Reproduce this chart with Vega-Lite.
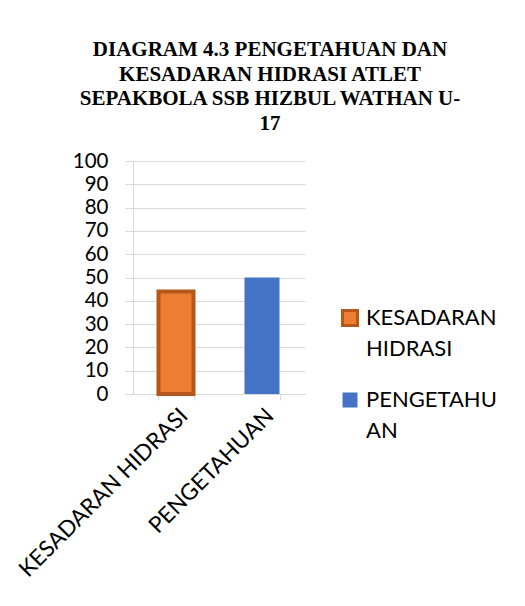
{
  "$schema": "https://vega.github.io/schema/vega-lite/v6.json",
  "width": 172,
  "height": 233,
  "autosize": {"type": "none"},
  "padding": {"left": 133, "top": 161, "right": 220, "bottom": 212},
  "background": "white",
  "title": {
    "text": ["DIAGRAM 4.3 PENGETAHUAN DAN", "KESADARAN HIDRASI ATLET", "SEPAKBOLA SSB HIZBUL WATHAN U-", "17"],
    "font": "Liberation Serif",
    "fontSize": 21,
    "fontWeight": "bold",
    "color": "#000000",
    "anchor": "middle",
    "frame": "group",
    "dx": 51,
    "offset": 17,
    "lineHeight": 24.7
  },
  "data": {
    "values": [
      {"kategori": "KESADARAN HIDRASI", "nilai": 44},
      {"kategori": "PENGETAHUAN", "nilai": 50}
    ]
  },
  "config": {
    "view": {"stroke": null}
  },
  "mark": {"type": "bar", "strokeWidth": 4},
  "encoding": {
    "x": {
      "field": "kategori",
      "type": "nominal",
      "sort": null,
      "scale": {"paddingInner": 0.593, "paddingOuter": 0.2965},
      "axis": {
        "title": null,
        "labelAngle": -45,
        "labelAlign": "right",
        "labelBaseline": "top",
        "labelFont": "Lato",
        "labelFontSize": 22.5,
        "labelColor": "#000000",
        "labelPadding": 4,
        "labelLimit": 400,
        "tickBand": "extent",
        "tickSize": 6,
        "tickColor": "#d9d9d9",
        "domainColor": "#d9d9d9",
        "grid": false
      }
    },
    "y": {
      "field": "nilai",
      "type": "quantitative",
      "scale": {"domain": [0, 100]},
      "axis": {
        "title": null,
        "values": [0, 10, 20, 30, 40, 50, 60, 70, 80, 90, 100],
        "labelFont": "Lato",
        "labelFontSize": 20.5,
        "labelColor": "#000000",
        "labelPadding": 17,
        "tickSize": 8,
        "tickColor": "#d9d9d9",
        "domain": true,
        "domainColor": "#d9d9d9",
        "grid": true,
        "gridColor": "#d9d9d9"
      }
    },
    "fill": {
      "field": "kategori",
      "type": "nominal",
      "scale": {"domain": ["KESADARAN HIDRASI", "PENGETAHUAN"], "range": ["#ED7D31", "#4472C4"]},
      "legend": {
        "title": null,
        "orient": "none",
        "legendX": 206,
        "legendY": 146,
        "symbolType": "square",
        "symbolSize": 225,
        "symbolStrokeWidth": 3,
        "labelFont": "Lato",
        "labelFontSize": 22,
        "labelColor": "#000000",
        "labelOffset": 5,
        "labelLimit": 300,
        "rowPadding": 26,
        "labelExpr": "datum.label == 'KESADARAN HIDRASI' ? ['KESADARAN', 'HIDRASI'] : ['PENGETAHU', 'AN']",
        "encode": {"labels": {"update": {"lineHeight": {"value": 31}}}}
      }
    },
    "stroke": {
      "field": "kategori",
      "type": "nominal",
      "scale": {"domain": ["KESADARAN HIDRASI", "PENGETAHUAN"], "range": ["#B5561B", "rgba(0,0,0,0)"]},
      "legend": null
    }
  }
}
